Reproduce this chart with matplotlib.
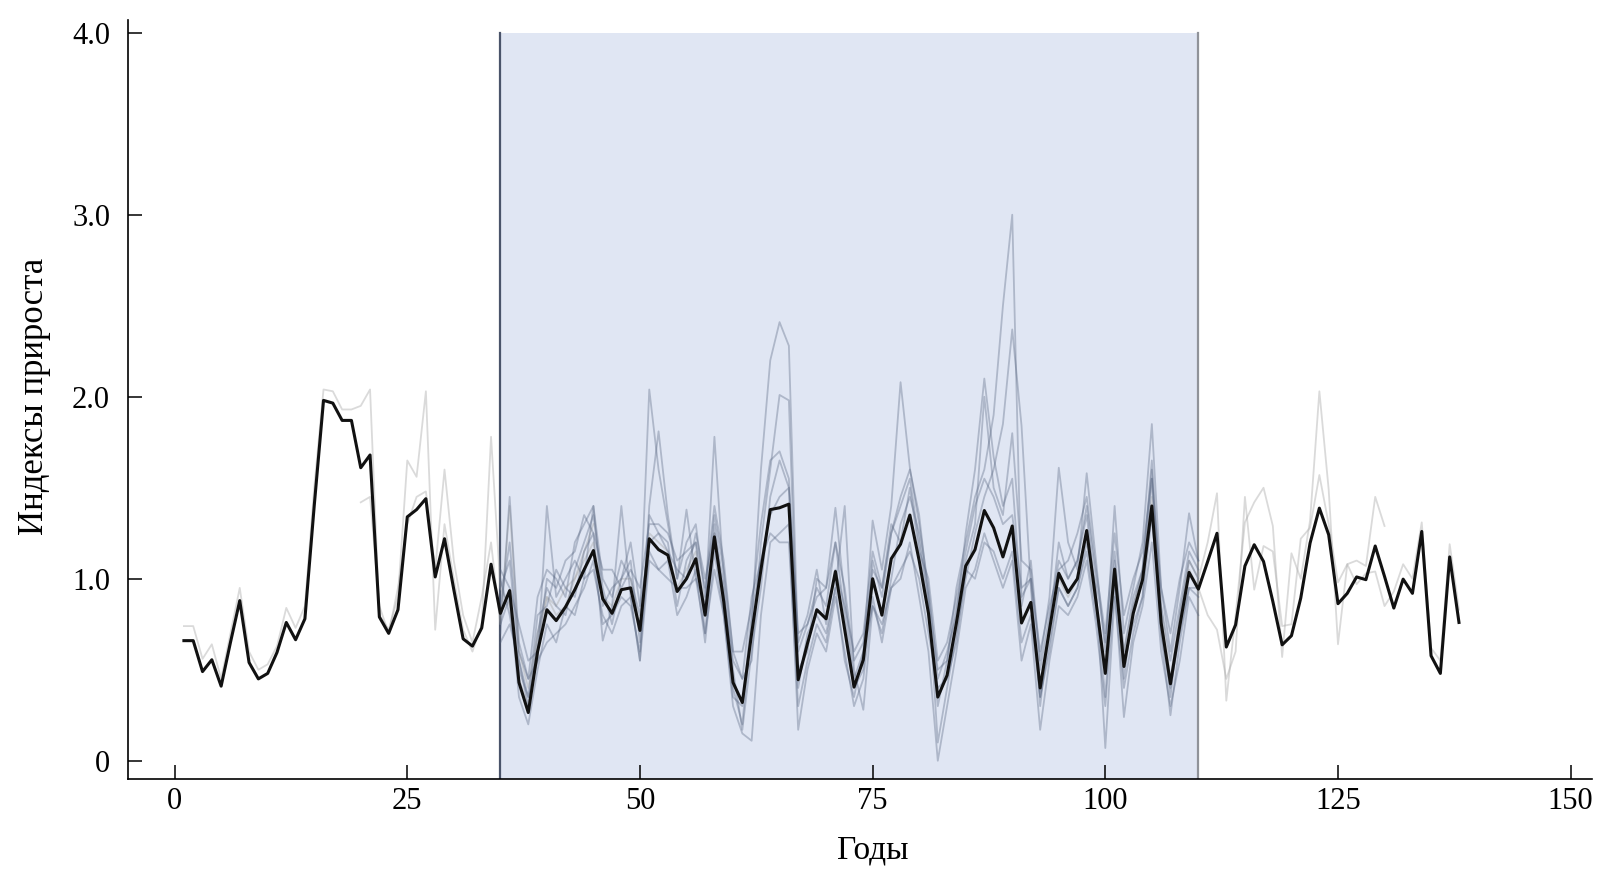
import numpy as np
import matplotlib
matplotlib.use("Agg")
import matplotlib.pyplot as plt

plt.rcParams['font.family'] = ['Liberation Serif', 'DejaVu Serif']

# ---------------- data ----------------
years_mean = list(range(1, 139))
mean_index = [
    0.66, 0.66, 0.49, 0.555, 0.41, 0.65, 0.88, 0.54, 0.45, 0.48,
    0.595, 0.76, 0.665, 0.78, 1.40, 1.98, 1.965, 1.87, 1.87, 1.61,
    1.68, 0.79, 0.70, 0.83, 1.34, 1.38, 1.44, 1.01, 1.22, 0.94,
    0.67, 0.63, 0.73, 1.08, 0.81, 0.935, 0.43, 0.265, 0.60, 0.83,
    0.77, 0.845, 0.94, 1.05, 1.155, 0.89, 0.81, 0.94, 0.95, 0.716,
    1.22, 1.16, 1.13, 0.93, 1.00, 1.11, 0.80, 1.23, 0.875, 0.43,
    0.32, 0.70, 1.05, 1.38, 1.39, 1.41, 0.445, 0.645, 0.83, 0.78,
    1.04, 0.72, 0.405, 0.555, 1.00, 0.80, 1.11, 1.19, 1.35, 1.10,
    0.81, 0.35, 0.47, 0.757, 1.07, 1.16, 1.375, 1.28, 1.12, 1.29,
    0.757, 0.87, 0.40, 0.72, 1.03, 0.925, 1.00, 1.265, 0.875, 0.48,
    1.053, 0.518, 0.81, 0.995, 1.40, 0.757, 0.423, 0.74, 1.035, 0.943,
    1.095, 1.25, 0.625, 0.747, 1.07, 1.187, 1.095, 0.875, 0.637, 0.687,
    0.894, 1.196, 1.388, 1.242, 0.863, 0.92, 1.01, 0.995, 1.18, 1.013,
    0.839, 0.998, 0.92, 1.26, 0.577, 0.48, 1.12, 0.76,
]

# individual series inside the calibration window (years 35..110)
years_window = list(range(35, 111))
series_s1 = [
    0.95, 1.10, 0.55, 0.30, 0.70, 0.95, 0.85, 0.80, 1.05, 1.20,
    1.35, 0.95, 0.75, 1.00, 1.10, 0.65, 1.35, 1.25, 1.20, 0.85,
    1.10, 1.20, 0.70, 1.30, 0.95, 0.40, 0.20, 0.75, 1.60, 2.20,
    2.41, 2.28, 0.60, 0.75, 0.95, 0.85, 1.20, 0.80, 0.40, 0.50,
    1.10, 0.90, 1.25, 1.40, 1.55, 1.20, 0.85, 0.30, 0.55, 0.95,
    1.20, 1.45, 1.60, 1.90, 2.50, 3.00, 0.90, 1.00, 0.30, 0.75,
    1.20, 1.00, 1.10, 1.35, 0.90, 0.35, 1.10, 0.45, 0.85, 1.05,
    1.60, 0.80, 0.35, 0.80, 1.10, 1.00,
]
series_s2 = [
    0.70, 1.45, 0.65, 0.45, 0.55, 1.40, 0.90, 1.00, 1.10, 1.00,
    1.40, 1.00, 0.90, 1.10, 1.00, 0.80, 2.04, 1.60, 1.30, 1.00,
    1.20, 1.30, 0.90, 1.35, 1.05, 0.60, 0.45, 0.55, 1.20, 1.60,
    2.01, 1.98, 0.50, 0.60, 1.00, 0.95, 1.39, 0.90, 0.45, 0.60,
    1.32, 1.05, 1.40, 2.08, 1.61, 1.30, 0.95, 0.45, 0.60, 0.80,
    1.25, 1.60, 2.10, 1.67, 1.40, 1.55, 0.85, 1.10, 0.55, 0.90,
    1.61, 1.20, 1.05, 1.58, 1.10, 0.60, 1.40, 0.70, 0.95, 1.20,
    1.85, 0.95, 0.60, 0.95, 1.36, 1.10,
]
series_s3 = [
    1.00, 0.80, 0.50, 0.35, 0.80, 0.85, 1.05, 0.95, 0.90, 1.15,
    1.25, 0.66, 0.85, 1.40, 0.90, 0.55, 1.40, 1.81, 1.35, 1.00,
    1.38, 1.00, 0.85, 1.78, 1.00, 0.50, 0.17, 0.60, 0.95, 1.45,
    1.65, 1.50, 0.40, 0.70, 0.80, 0.70, 0.95, 1.40, 0.50, 0.28,
    0.85, 0.70, 1.00, 1.30, 1.45, 1.25, 0.90, 0.10, 0.40, 0.70,
    1.00, 1.25, 1.45, 1.60, 1.85, 2.37, 1.84, 0.95, 0.35, 0.60,
    0.95, 0.85, 0.95, 1.20, 0.95, 0.07, 0.90, 0.40, 0.70, 0.90,
    1.55, 0.70, 0.25, 0.65, 0.95, 0.90,
]
series_s4 = [
    0.75, 0.90, 0.35, 0.20, 0.50, 0.75, 0.65, 0.85, 0.80, 1.00,
    1.05, 0.80, 0.70, 0.85, 0.90, 0.55, 1.10, 1.05, 1.10, 0.80,
    0.90, 1.05, 0.65, 1.15, 0.80, 0.30, 0.15, 0.11, 0.80, 1.20,
    1.25, 1.30, 0.17, 0.50, 0.70, 0.60, 0.90, 0.60, 0.30, 0.45,
    0.90, 0.65, 0.95, 1.00, 1.20, 0.90, 0.60, 0.00, 0.30, 0.60,
    0.95, 1.05, 1.25, 1.10, 0.95, 1.10, 0.55, 0.75, 0.17, 0.55,
    0.85, 0.80, 0.90, 1.10, 0.75, 0.30, 0.95, 0.24, 0.65, 0.85,
    1.20, 0.60, 0.30, 0.55, 0.90, 0.80,
]
series_s5 = [
    0.85, 1.20, 0.60, 0.45, 0.90, 1.05, 1.00, 0.90, 1.20, 1.30,
    1.40, 0.85, 0.95, 1.00, 1.20, 0.85, 1.20, 1.25, 1.15, 1.05,
    1.00, 1.25, 1.00, 1.25, 0.90, 0.55, 0.45, 0.90, 1.10, 1.35,
    1.45, 1.50, 0.65, 0.80, 1.05, 0.75, 1.05, 0.85, 0.60, 0.70,
    1.15, 0.95, 1.30, 1.20, 1.50, 1.15, 1.00, 0.55, 0.65, 0.90,
    1.15, 1.40, 1.55, 1.45, 1.30, 1.35, 0.95, 1.00, 0.60, 0.85,
    1.05, 1.10, 1.25, 1.45, 1.05, 0.70, 1.25, 0.80, 1.00, 1.15,
    1.55, 0.95, 0.70, 1.00, 1.20, 1.10,
]
series_s6 = [
    0.65, 0.75, 0.55, 0.35, 0.55, 0.65, 0.70, 0.75, 0.85, 0.95,
    1.10, 0.75, 0.80, 0.90, 0.85, 0.60, 1.15, 1.05, 1.00, 0.95,
    0.95, 1.00, 0.70, 1.05, 0.80, 0.35, 0.30, 0.80, 1.10, 1.25,
    1.20, 1.20, 0.30, 0.55, 0.75, 0.65, 0.95, 0.55, 0.35, 0.60,
    0.85, 0.75, 0.95, 1.05, 1.15, 1.00, 0.70, 0.40, 0.45, 0.65,
    1.05, 1.00, 1.20, 1.15, 1.00, 1.15, 0.65, 0.80, 0.35, 0.65,
    0.95, 0.85, 0.95, 1.15, 0.80, 0.50, 1.00, 0.55, 0.75, 0.90,
    1.35, 0.70, 0.40, 0.70, 0.95, 0.95,
]
series_s7 = [
    1.05, 0.95, 0.75, 0.55, 0.60, 1.00, 0.95, 1.10, 1.15, 1.35,
    1.25, 1.05, 1.05, 0.95, 1.05, 0.95, 1.30, 1.30, 1.25, 1.10,
    1.15, 1.20, 0.95, 1.40, 1.10, 0.60, 0.60, 0.85, 1.30, 1.65,
    1.70, 1.55, 0.70, 0.75, 0.90, 0.95, 1.20, 0.95, 0.55, 0.65,
    1.05, 0.95, 1.25, 1.45, 1.60, 1.35, 0.90, 0.50, 0.55, 0.85,
    1.10, 1.30, 2.00, 1.50, 1.35, 1.80, 1.10, 1.05, 0.50, 0.80,
    1.10, 1.00, 1.10, 1.40, 1.00, 0.65, 1.15, 0.60, 0.90, 1.05,
    1.65, 0.85, 0.55, 0.85, 1.15, 1.05,
]

# longer individual series extending outside the window
years_l1 = list(range(1, 61))
series_l1 = [
    0.74, 0.74, 0.56, 0.64, 0.45, 0.70, 0.95, 0.60, 0.50, 0.53,
    0.63, 0.84, 0.73, 0.85, 1.50, 2.04, 2.03, 1.93, 1.93, 1.95,
    2.04, 0.80, 0.72, 0.90, 1.65, 1.56, 2.03, 0.72, 1.30, 1.00,
    0.72, 0.60, 0.75, 1.78, 0.95, 0.85, 0.45, 0.30, 0.65, 0.90,
    0.80, 0.85, 1.00, 1.10, 1.20, 0.90, 0.85, 1.00, 1.00, 0.75,
    1.25, 1.20, 1.15, 0.95, 1.05, 1.15, 0.85, 1.25, 0.90, 0.45,
]
years_l2 = list(range(20, 46))
series_l2 = [
    1.42, 1.45, 0.85, 0.70, 0.95, 1.30, 1.45, 1.48, 1.05, 1.60,
    1.10, 0.80, 0.65, 0.90, 1.20, 0.75, 1.40, 0.60, 0.40, 0.70,
    0.90, 0.85, 0.95, 1.00, 1.15, 1.30,
]
years_l3 = list(range(100, 131))
series_l3 = [
    0.55, 1.05, 0.60, 0.85, 1.05, 1.45, 0.85, 0.45, 0.80, 1.10,
    1.00, 1.20, 1.47, 0.33, 0.80, 1.31, 1.42, 1.50, 1.29, 0.57,
    1.14, 1.00, 1.32, 2.03, 1.49, 0.64, 1.08, 1.10, 1.07, 1.45,
    1.29,
]
years_l4 = list(range(95, 139))
series_l4 = [
    1.00, 0.90, 1.00, 1.25, 0.85, 0.50, 1.00, 0.55, 0.80, 1.00,
    1.35, 0.75, 0.45, 0.75, 1.05, 0.95, 0.80, 0.72, 0.45, 0.60,
    1.45, 0.94, 1.18, 1.15, 0.74, 0.75, 1.22, 1.28, 1.57, 1.30,
    0.98, 1.08, 0.97, 1.03, 1.04, 0.85, 0.93, 1.08, 1.00, 1.31,
    0.62, 0.55, 1.19, 0.83,
]

window_bounds = [35, 110]
window_top = 4.0
x_ticks = [0, 25, 50, 75, 100, 125, 150]
y_ticks = [0, 1, 2, 3, 4]
y_tick_labels = ["0", "1.0", "2.0", "3.0", "4.0"]
x_label = "Годы"
y_label = "Индексы прироста"

# ---------------- figure ----------------
fig = plt.figure(figsize=(16.15, 8.84), dpi=100)
ax = fig.add_axes([0.0793, 0.1188, 0.9065, 0.8586])
ax.set_xlim(-5, 152.3)
ax.set_ylim(-0.1, 4.07)

# shaded window
ax.fill_between(window_bounds, [-0.1, -0.1], [window_top, window_top],
                color="#e0e6f3", zorder=0, linewidth=0)
ax.plot([window_bounds[0]] * 2, [-0.1, window_top], color="#4a546a", lw=1.6, zorder=1)
ax.plot([window_bounds[1]] * 2, [-0.1, window_top], color="#909399", lw=1.6, zorder=1)

# long light series
for yrs, vals in [(years_l1, series_l1), (years_l2, series_l2),
                  (years_l3, series_l3), (years_l4, series_l4)]:
    ax.plot(yrs, vals, color="#a8a8a8", alpha=0.42, lw=1.3, zorder=2)

# window series
for vals in [series_s1, series_s2, series_s3, series_s4,
             series_s5, series_s6, series_s7]:
    ax.plot(years_window, vals, color="#56647f", alpha=0.36, lw=1.3, zorder=2)

# mean chronology
ax.plot(years_mean, mean_index, color="#111111", lw=2.2, zorder=4)

# axes styling
for s in ["top", "right"]:
    ax.spines[s].set_visible(False)
for s in ["left", "bottom"]:
    ax.spines[s].set_linewidth(1.2)
ax.set_xticks(x_ticks)
ax.set_xticklabels([str(t) for t in x_ticks])
ax.set_yticks(y_ticks)
ax.set_yticklabels(y_tick_labels)
ax.tick_params(axis="both", direction="in", length=10, width=1.1, labelsize=22)
ax.tick_params(axis="y", pad=13.0)
ax.tick_params(axis="x", pad=6.0)

ax.set_xlabel(x_label, fontsize=24, va="center")
ax.xaxis.set_label_coords(0.5086, -0.0935)
ax.set_ylabel(y_label, fontsize=25, va="center")
ax.yaxis.set_label_coords(-0.064, 0.5036)

fig.savefig("out.png", dpi=100)
